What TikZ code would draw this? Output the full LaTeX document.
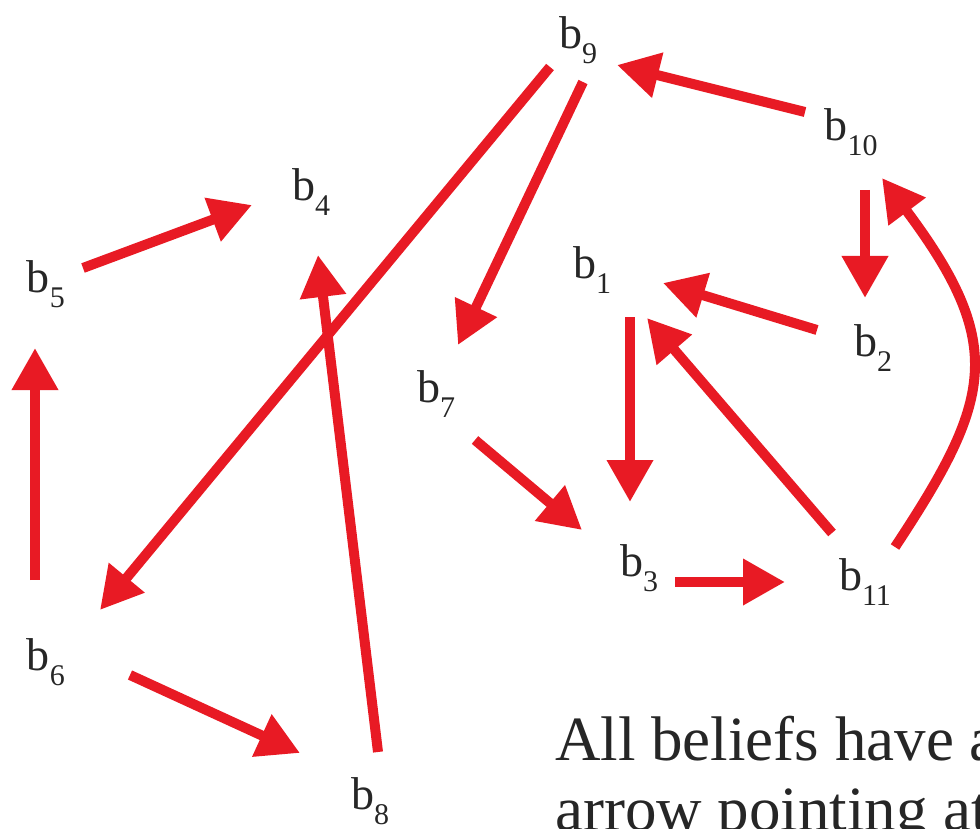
\documentclass[tikz,border=0pt]{standalone}
\usepackage{fontspec}
\setmainfont{Liberation Serif}
\usetikzlibrary{arrows.meta}
\definecolor{arrowred}{RGB}{232,26,36}
\newcommand{\bel}[1]{b\raisebox{-15pt}{\fontsize{30}{30}\selectfont #1}}

\begin{document}
\begin{tikzpicture}[x=1pt, y=-1pt,
  belief/.style={font=\fontsize{46}{50}\selectfont, inner sep=0pt, text=black!85},
  note/.style={font=\fontsize{63}{70}\selectfont, inner sep=0pt, anchor=base west, text=black!85},
  link/.style={arrowred, line width=10pt, -{Triangle[width=44pt,length=42pt]}}]
  \useasboundingbox (0,0) rectangle (980,829);
  \clip (0,0) rectangle (980,829);
  % Các niềm tin
  \node[belief] (b1) at (592,270) {\bel{1}};
  \node[belief] (b2) at (873,348) {\bel{2}};
  \node[belief] (b3) at (639,568) {\bel{3}};
  \node[belief] (b4) at (311,192) {\bel{4}};
  \node[belief] (b5) at (46,284) {\bel{5}};
  \node[belief] (b6) at (46,662) {\bel{6}};
  \node[belief] (b7) at (436,394) {\bel{7}};
  \node[belief] (b8) at (370,801) {\bel{8}};
  \node[belief] (b9) at (578,40) {\bel{9}};
  \node[belief] (b10) at (851,132) {\bel{10}};
  \node[belief] (b11) at (865,582) {\bel{11}};
  % Các mũi tên
  \draw[link] ([shift={(-46,-20)}]b10.center) -- ([shift={(39,25)}]b9.center);
  \draw[link] ([shift={(-28,27)}]b9.center) -- ([shift={(54,-52)}]b6.center);
  \draw[link] ([shift={(5,42)}]b9.center) -- ([shift={(22,-49)}]b7.center);
  \draw[link] ([shift={(37,-16)}]b5.center) -- ([shift={(-59,13)}]b4.center);
  \draw[link] ([shift={(-11,-82)}]b6.center) -- ([shift={(-11,64)}]b5.center);
  \draw[link] ([shift={(8,-49)}]b8.center) -- ([shift={(7,63)}]b4.center);
  \draw[link] ([shift={(84,13)}]b6.center) -- ([shift={(-70,-48)}]b8.center);
  \draw[link] ([shift={(14,58)}]b10.center) -- ([shift={(-8,-50)}]b2.center);
  \draw[link] ([shift={(-56,-18)}]b2.center) -- ([shift={(71,13)}]b1.center);
  \draw[link] ([shift={(38,47)}]b1.center) -- ([shift={(-9,-66)}]b3.center);
  \draw[link] ([shift={(-33,-49)}]b11.center) -- ([shift={(55,48)}]b1.center);
  \draw[link] ([shift={(30,-35)}]b11.center) .. controls +(97,-147) and +(125,167) .. ([shift={(31,46)}]b10.center);
  \draw[link] ([shift={(39,46)}]b7.center) -- ([shift={(-57,-38)}]b3.center);
  \draw[link] ([shift={(36,14)}]b3.center) -- ([shift={(-80,0)}]b11.center);
  % Ghi chú
  \node[note] (line1) at (555,760) {All beliefs have a};
  \node[note] (line2) at (555,830) {arrow pointing at};
\end{tikzpicture}
\end{document}
